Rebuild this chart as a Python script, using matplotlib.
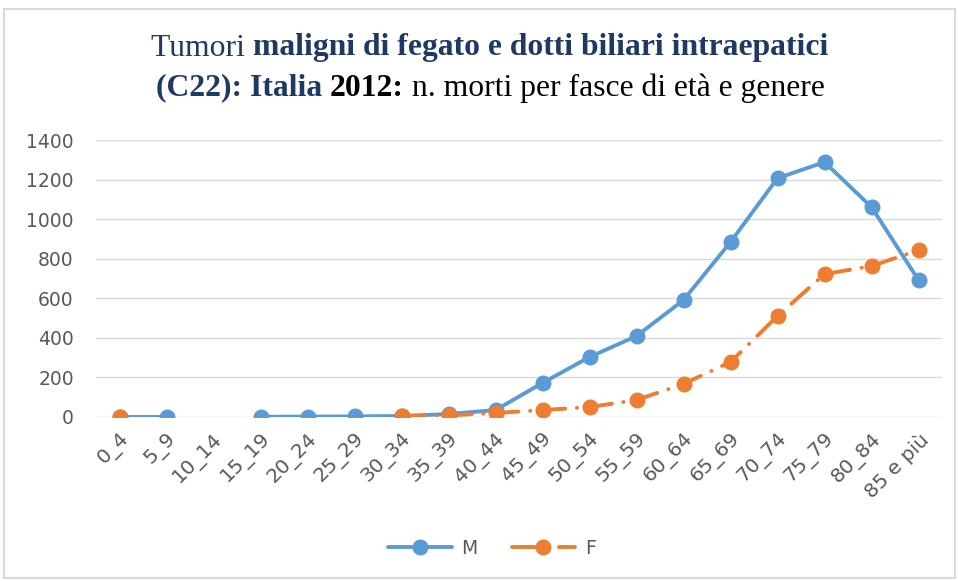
import numpy as np
import matplotlib.pyplot as plt
from matplotlib.patches import Rectangle

# data
classi = ['0_4', '5_9', '10_14', '15_19', '20_24', '25_29', '30_34', '35_39',
          '40_44', '45_49', '50_54', '55_59', '60_64', '65_69', '70_74',
          '75_79', '80_84', '85 e più']
maschi = [0, 0, np.nan, 1, 2, 3, 5, 15, 35, 172, 303, 409, 591, 884, 1207,
          1288, 1061, 692]
femmine = [0, np.nan, np.nan, np.nan, np.nan, np.nan, 5, 8, 20, 35, 50, 86,
           167, 278, 510, 722, 763, 843]

blu = '#5B9BD5'
arancio = '#ED7D31'
grigio = '#595959'
blu_scuro = '#1F3864'

fig = plt.figure(figsize=(9.58, 5.81), dpi=100)
fig.patches.append(Rectangle((4/958, 3/581), 951/958, 569/581,
                             transform=fig.transFigure, fill=False,
                             edgecolor='#D9D9D9', linewidth=1.5))

ax = fig.add_axes([96/958, 1-417/581, 846/958, 277/581])
x = np.arange(len(classi))

ax.plot(x, maschi, color=blu, lw=2.8, marker='o', ms=10.5,
        solid_capstyle='round', label='M')
ax.plot(x, femmine, color=arancio, lw=2.8, marker='o', ms=10.5,
        dash_capstyle='round', label='F')
ax.lines[-1].set_dashes([6, 3, 0.05, 3])

ax.set_xlim(-0.5, len(classi)-0.5)
ax.set_ylim(0, 1400)
ax.set_yticks(np.arange(0, 1401, 200))
ax.set_xticks(x)
ax.set_xticklabels(classi, rotation=45, ha='right', rotation_mode='anchor')
ax.tick_params(length=0, labelsize=13.5, labelcolor=grigio)
ax.tick_params(axis='y', pad=16)
ax.tick_params(axis='x', pad=9, labelsize=14.5)
ax.grid(axis='y', color='#D9D9D9', lw=1)
ax.set_axisbelow(True)
for s in ax.spines.values():
    s.set_visible(False)

leg = ax.legend(loc='center', bbox_to_anchor=(492/958, 1-548/581),
                bbox_transform=fig.transFigure, ncol=2, frameon=False,
                fontsize=13.5, handlelength=3.4, handletextpad=0.5,
                columnspacing=1.8)
for t in leg.get_texts():
    t.set_color(grigio)

# titolo a pezzi: stili diversi sulla stessa riga
righe = [
    [('Tumori ', 'normal', blu_scuro),
     ('maligni di fegato e dotti biliari intraepatici', 'bold', blu_scuro)],
    [('(C22): Italia ', 'bold', blu_scuro),
     ('2012:', 'bold', 'black'),
     (' n. morti per fasce di età e genere', 'normal', 'black')],
]
ys = [1-48/581, 1-88/581]
cx = 490/958
fig.canvas.draw()
r = fig.canvas.get_renderer()
for pezzi, yy in zip(righe, ys):
    testi = [fig.text(0, yy, s, fontsize=22.8, family='Liberation Serif',
                      weight=w, color=c, va='center') for s, w, c in pezzi]
    larg = [t.get_window_extent(r).width/958 for t in testi]
    x0 = cx - sum(larg)/2
    for t, w in zip(testi, larg):
        t.set_x(x0)
        x0 += w

fig.savefig('out.png', dpi=100)
